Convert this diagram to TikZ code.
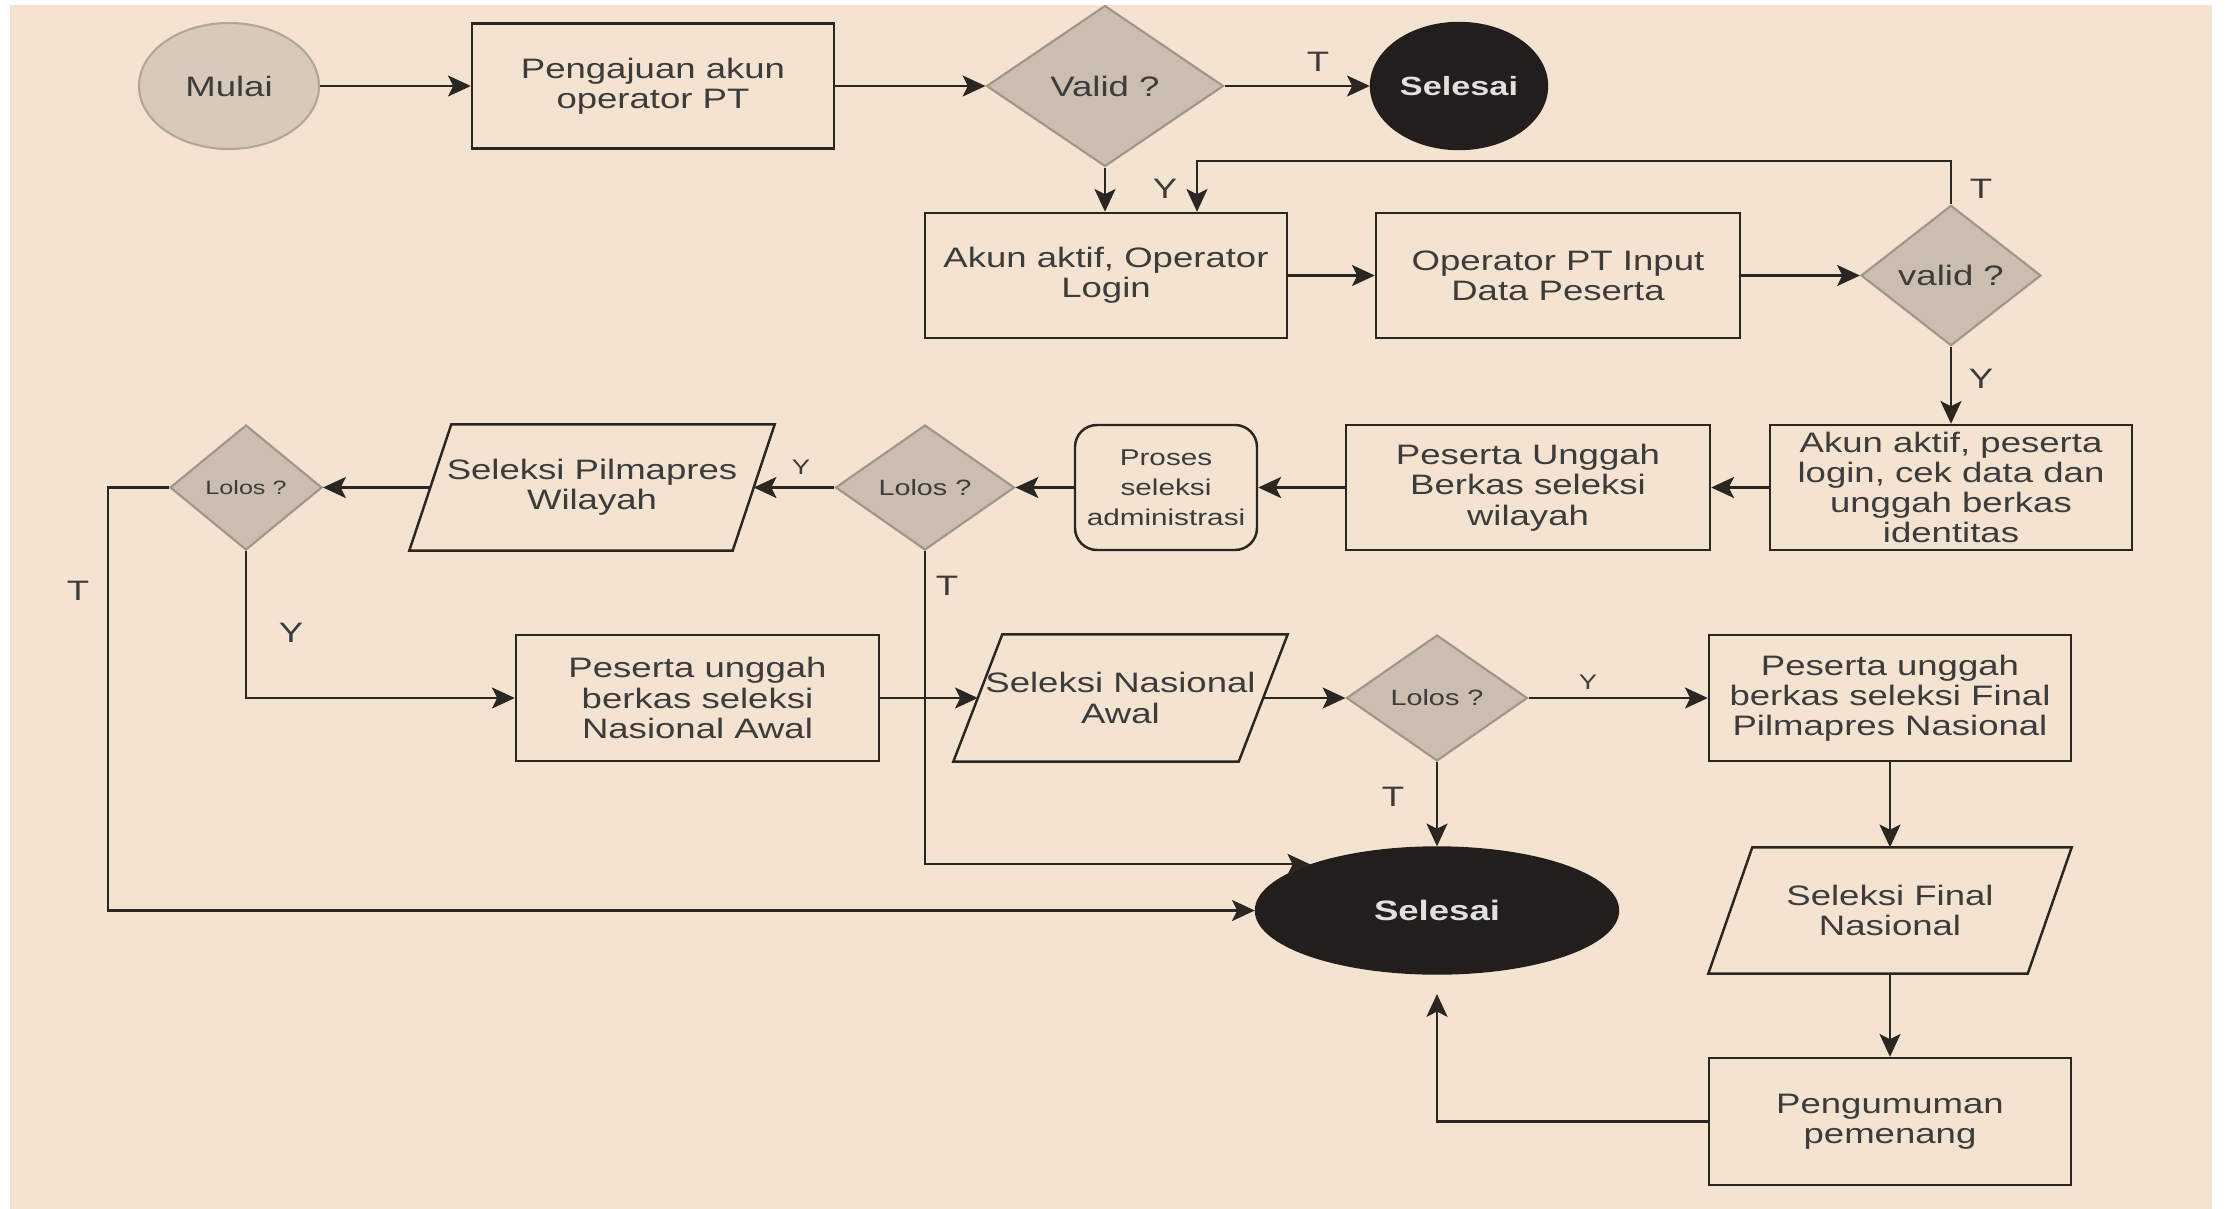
\documentclass[tikz,border=0pt]{standalone}
\usepackage{fontspec}
\setmainfont[FakeStretch=1.3]{Liberation Sans}
\usetikzlibrary{shapes.geometric, arrows.meta}
\definecolor{bgbeige}{HTML}{F4E3D1}
\definecolor{diafill}{HTML}{CBBDAF}
\definecolor{diadraw}{HTML}{A0958A}
\definecolor{startfill}{HTML}{D8CABB}
\definecolor{startdraw}{HTML}{B3A698}
\definecolor{txtgray}{HTML}{3C3C3C}
\definecolor{endfill}{HTML}{221E1B}
\definecolor{linecol}{HTML}{2A2622}

\begin{document}
\begin{tikzpicture}[y=-1cm,
    every node/.style={font=\fontsize{8}{8.6}\selectfont, text=txtgray, align=center, inner sep=1pt},
    procbox/.style={rectangle, draw=linecol, line width=0.7pt, minimum width=3.62cm, minimum height=1.25cm},
    roundbox/.style={procbox, rounded corners=0.22cm, minimum width=1.82cm},
    iobox/.style={rectangle, minimum height=1.25cm},
    decide/.style={diamond, fill=diafill, draw=diadraw, line width=0.6pt, minimum height=1.25cm},
    startnode/.style={ellipse, fill=startfill, draw=startdraw, line width=0.6pt},
    endnode/.style={ellipse, fill=endfill, draw=endfill, text=white!88!black, font=\fontsize{7.5}{8.6}\selectfont\bfseries},
    arr/.style={draw=linecol, line width=0.6pt, -{Stealth[length=6.5pt, width=6pt, inset=1.5pt]}},
    lbl/.style={font=\fontsize{8}{8.6}\selectfont},
    smalllbl/.style={font=\fontsize{6}{7}\selectfont}]

    % background
    \fill[white] (0,0) rectangle (22.27,12.09);
    \fill[bgbeige] (0.10,0.05) rectangle (22.12,12.09);

    % row 1
    \node[startnode, minimum width=1.80cm, minimum height=1.26cm] (mulai) at (2.29,0.86) {Mulai};
    \node[procbox] (pengajuan) at (6.53,0.86) {Pengajuan akun\\operator PT};
    \node[decide, minimum width=2.37cm, minimum height=1.61cm] (valid1) at (11.05,0.86) {Valid ?};
    \node[endnode, minimum width=1.69cm, minimum height=1.27cm] (selesai1) at (14.59,0.86) {Selesai};

    % row 2
    \node[procbox] (akun) at (11.06,2.755) {Akun aktif, Operator\\Login};
    \node[procbox, minimum width=3.64cm] (inputdata) at (15.58,2.755) {Operator PT Input\\Data Peserta};
    \node[decide, minimum width=1.80cm] (valid2) at (19.51,2.755) {valid ?};

    % row 3
    \node[procbox] (akunpeserta) at (19.51,4.875) {Akun aktif, peserta\\login, cek data dan\\unggah berkas\\identitas};
    \node[procbox, minimum width=3.64cm] (unggahwil) at (15.28,4.875) {Peserta Unggah\\Berkas seleksi\\wilayah};
    \node[roundbox, font=\fontsize{6.5}{8.6}\selectfont] (proses) at (11.66,4.875) {Proses\\seleksi\\administrasi};
    \node[decide, minimum width=1.79cm, font=\fontsize{6.3}{7}\selectfont] (lolos1) at (9.25,4.875) {Lolos ?};
    \node[iobox, minimum width=3.22cm] (pilwil) at (5.92,4.875) {Seleksi Pilmapres\\Wilayah};
    \node[decide, minimum width=1.52cm, font=\fontsize{5.5}{7}\selectfont] (lolos2) at (2.46,4.875) {Lolos ?};

    % row 4
    \node[procbox, minimum width=3.63cm, minimum height=1.26cm] (unggahnas) at (6.975,6.98) {Peserta unggah\\berkas seleksi\\Nasional Awal};
    \node[iobox, minimum width=2.84cm, minimum height=1.26cm] (nasawal) at (11.205,6.98) {Seleksi Nasional\\Awal};
    \node[decide, minimum width=1.81cm, minimum height=1.26cm, font=\fontsize{6.3}{7}\selectfont] (lolos3) at (14.37,6.98) {Lolos ?};
    \node[procbox, minimum height=1.26cm] (unggahfinal) at (18.90,6.98) {Peserta unggah\\berkas seleksi Final\\Pilmapres Nasional};

    % bottom
    \node[endnode, minimum width=3.63cm, minimum height=1.27cm, font=\fontsize{8}{8.6}\selectfont\bfseries] (selesai2) at (14.37,9.105) {Selesai};
    \node[iobox, minimum width=3.18cm] (finalnas) at (18.90,9.105) {Seleksi Final\\Nasional};
    \node[procbox, minimum height=1.27cm] (umum) at (18.90,11.215) {Pengumuman\\pemenang};
    \coordinate (backup) at (14.37,9.94);

    % slanted input/output boxes
    \foreach \n/\s in {pilwil/0.21, nasawal/0.245, finalnas/0.22}
        \draw[linecol, line width=0.7pt] ([xshift=\s cm]\n.north west) -- ([xshift=\s cm]\n.north east)
            -- ([xshift=-\s cm]\n.south east) -- ([xshift=-\s cm]\n.south west) -- cycle;

    % connectors
    \draw[arr] (mulai) -- (pengajuan);
    \draw[arr] (pengajuan) -- (valid1);
    \draw[arr] (valid1) -- (selesai1);
    \draw[arr] (valid1.south) -- (valid1.south |- akun.north);
    \draw[arr] (valid2.north) -- ++(0,-0.43) -| ([xshift=0.91cm]akun.north);
    \draw[arr] (akun) -- (inputdata);
    \draw[arr] (inputdata) -- (valid2);
    \draw[arr] (valid2) -- (akunpeserta);
    \draw[arr] (akunpeserta) -- (unggahwil);
    \draw[arr] (unggahwil) -- (proses);
    \draw[arr] (proses) -- (lolos1);
    \draw[arr] (lolos1) -- (pilwil);
    \draw[arr] (pilwil) -- (lolos2);
    \draw[arr] (lolos2.west) -- ++(-0.61,0) |- (selesai2.west);
    \draw[arr] (lolos2.south) |- (unggahnas.west);
    \draw[arr] (lolos1.south) |- (selesai2.160);
    \draw[arr] (unggahnas) -- (nasawal);
    \draw[arr] (nasawal) -- (lolos3);
    \draw[arr] (lolos3) -- (unggahfinal);
    \draw[arr] (lolos3) -- (selesai2);
    \draw[arr] (unggahfinal) -- (finalnas);
    \draw[arr] (finalnas) -- (umum);
    \draw[arr] (umum.west) -| (backup);

    % labels
    \node[lbl] at (13.18,0.62) {T};
    \node[lbl] at (11.65,1.89) {Y};
    \node[lbl] at (19.81,1.89) {T};
    \node[lbl] at (19.81,3.79) {Y};
    \node[smalllbl] at (8.01,4.67) {Y};
    \node[lbl] at (0.78,5.91) {T};
    \node[lbl] at (9.47,5.86) {T};
    \node[lbl] at (2.91,6.33) {Y};
    \node[smalllbl] at (15.88,6.82) {Y};
    \node[lbl] at (13.93,7.97) {T};
\end{tikzpicture}
\end{document}
